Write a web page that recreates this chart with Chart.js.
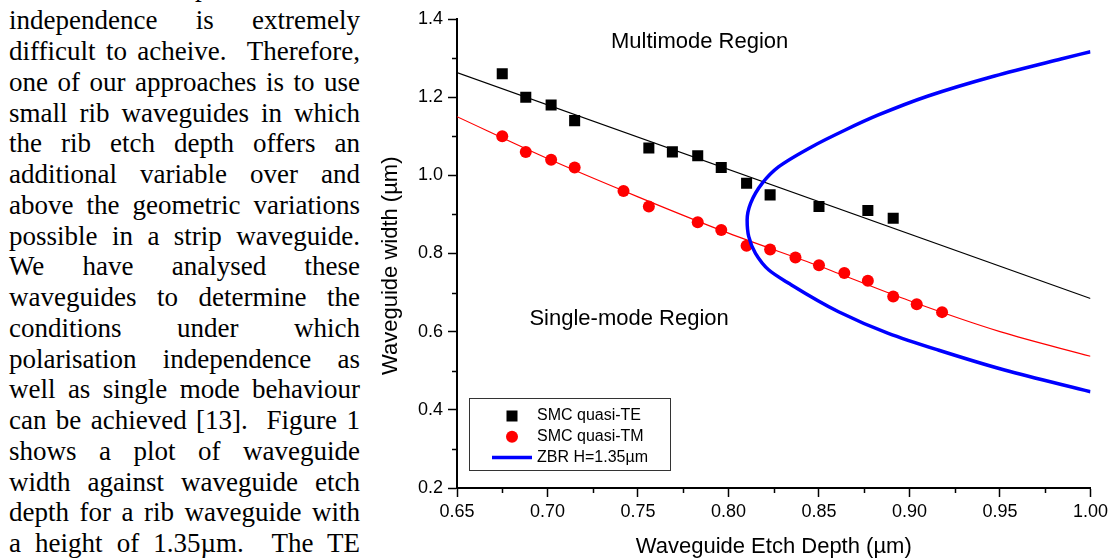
<!DOCTYPE html>
<html>
<head>
<meta charset="utf-8">
<script src="https://cdn.jsdelivr.net/npm/chart.js@4.4.1/dist/chart.umd.min.js"></script>
<style>
  html, body { margin: 0; padding: 0; background: #fff; }
  body { width: 1112px; height: 560px; overflow: hidden; position: relative; }
  #text {
    position: absolute; left: 9px; top: -25.5px; width: 351px;
    font-family: 'Liberation Serif', 'Times New Roman', serif; font-size: 27px; color: #000;
  }
  #text div { height: 30.75px; line-height: 30.75px; text-align: justify; text-align-last: justify; }
  #text div.first { text-align-last: left; position: relative; top: -3px; }
  #chart { position: absolute; left: 360px; top: 0; }
</style>
</head>
<body>
<div id="text">
  <div class="first">For real devices, polarisation</div>
  <div>independence is extremely</div>
  <div>difficult to acheive.&nbsp; Therefore,</div>
  <div>one of our approaches is to use</div>
  <div>small rib waveguides in which</div>
  <div>the rib etch depth offers an</div>
  <div>additional variable over and</div>
  <div>above the geometric variations</div>
  <div>possible in a strip waveguide.</div>
  <div>We have analysed these</div>
  <div>waveguides to determine the</div>
  <div>conditions under which</div>
  <div>polarisation independence as</div>
  <div>well as single mode behaviour</div>
  <div>can be achieved [13].&nbsp; Figure 1</div>
  <div>shows a plot of waveguide</div>
  <div>width against waveguide etch</div>
  <div>depth for a rib waveguide with</div>
  <div>a height of 1.35µm.&nbsp; The TE</div>
</div>
<canvas id="chart" width="752" height="560"></canvas>
<script>
// measured points (etch depth in um, width in um)
const teDepth = [0.675, 0.688, 0.702, 0.715, 0.756, 0.769, 0.783, 0.796, 0.810, 0.823, 0.850, 0.877, 0.891];
const teWidth = [1.26, 1.20, 1.18, 1.14, 1.07, 1.06, 1.05, 1.02, 0.98, 0.95, 0.92, 0.91, 0.89];

const tmDepth = [0.675, 0.688, 0.702, 0.715, 0.742, 0.756, 0.783, 0.796, 0.810, 0.823, 0.837, 0.850, 0.864, 0.877, 0.891, 0.904, 0.918];
const tmWidth = [1.10, 1.06, 1.04, 1.02, 0.96, 0.92, 0.88, 0.86, 0.82, 0.81, 0.79, 0.77, 0.75, 0.73, 0.69, 0.67, 0.65];

// fitted lines
const teFitDepth = [0.65, 1.00];
const teFitWidth = [1.263, 0.685];

const tmFitDepth = [0.65, 0.70, 0.75, 0.80, 0.85, 0.90, 0.95, 1.00];
const tmFitWidth = [1.150, 1.043, 0.945, 0.852, 0.768, 0.679, 0.600, 0.537];

// ZBR boundary, traced from the upper branch round to the lower one (width falls steadily)
const zbrDepth = [1.0000, 0.9837, 0.9470, 0.9103, 0.8828, 0.8645, 0.8461, 0.8278, 0.8186, 0.8122, 0.8103, 0.8112, 0.8149, 0.8223, 0.8333, 0.8608, 0.8883, 0.9158, 0.9525, 1.0000];
const zbrWidth = [1.3163, 1.2977, 1.2542, 1.2030, 1.1544, 1.1160, 1.0733, 1.0221, 0.9796, 0.9284, 0.8857, 0.8430, 0.8005, 0.7578, 0.7238, 0.6511, 0.5958, 0.5531, 0.5019, 0.4464];

const xTicks = [0.65, 0.70, 0.75, 0.80, 0.85, 0.90, 0.95, 1.00];
const yTicks = [0.2, 0.4, 0.6, 0.8, 1.0, 1.2, 1.4];
const xMinor = [0.675, 0.725, 0.775, 0.825, 0.875, 0.925, 0.975];
const yMinor = [0.3, 0.5, 0.7, 0.9, 1.1, 1.3];

function toPoints(xs, ys) {
    return xs.map((x, i) => ({ x: x, y: ys[i] }));
}

Chart.defaults.font.family = "'Liberation Sans', Arial, sans-serif";
Chart.defaults.color = "#000";

const minorTicks = {
    id: "minorTicks",
    afterDraw(chart) {
        const ctx = chart.ctx;
        const xs = chart.scales.x, ys = chart.scales.y;
        ctx.save();
        ctx.strokeStyle = "#000";
        ctx.lineWidth = 1.5;
        ctx.beginPath();
        xMinor.forEach(v => {
            let px = Math.round(xs.getPixelForValue(v)) + 0.5;
            ctx.moveTo(px, xs.top);
            ctx.lineTo(px, xs.top + 5);
        });
        yMinor.forEach(v => {
            let py = Math.round(ys.getPixelForValue(v)) + 0.5;
            ctx.moveTo(ys.right, py);
            ctx.lineTo(ys.right - 5, py);
        });
        ctx.stroke();
        ctx.restore();
    }
};

const regionLabels = {
    id: "regionLabels",
    afterDatasetsDraw(chart) {
        const ctx = chart.ctx;
        const xs = chart.scales.x, ys = chart.scales.y;
        ctx.save();
        ctx.fillStyle = "#000";
        ctx.font = "22px 'Liberation Sans', Arial, sans-serif";
        ctx.textBaseline = "alphabetic";
        ctx.fillText("Multimode Region", xs.getPixelForValue(0.7351), ys.getPixelForValue(1.326));
        ctx.fillText("Single-mode Region", xs.getPixelForValue(0.690), ys.getPixelForValue(0.617));
        ctx.restore();
    }
};

const boxLegend = {
    id: "boxLegend",
    afterDraw(chart) {
        const ctx = chart.ctx;
        const area = chart.chartArea;
        const left = area.left + 12, top = area.bottom - 90;
        const w = 201, h = 72;
        ctx.save();
        ctx.strokeStyle = "#333";
        ctx.lineWidth = 1;
        ctx.strokeRect(left + 0.5, top + 0.5, w, h);

        const sets = chart.data.datasets.filter(d => d.label);
        ctx.font = "16px 'Liberation Sans', Arial, sans-serif";
        ctx.textBaseline = "middle";
        sets.forEach((d, i) => {
            let cy = top + 18 + i * 20.7;
            let mx = left + 43;
            if (d.legendLine) {
                ctx.strokeStyle = d.borderColor;
                ctx.lineWidth = d.borderWidth;
                ctx.beginPath();
                ctx.moveTo(left + 23, cy);
                ctx.lineTo(left + 63, cy);
                ctx.stroke();
            } else if (d.pointStyle === "rect") {
                ctx.fillStyle = d.backgroundColor;
                ctx.fillRect(mx - 5.5, cy - 5.5, 11, 11);
            } else {
                ctx.fillStyle = d.backgroundColor;
                ctx.beginPath();
                ctx.arc(mx, cy, 6, 0, Math.PI * 2);
                ctx.fill();
            }
            ctx.fillStyle = "#000";
            ctx.fillText(d.label, left + 68, cy);
        });
        ctx.restore();
    }
};

new Chart(document.getElementById("chart"), {
    type: "scatter",
    data: {
        datasets: [
            {
                data: toPoints(teFitDepth, teFitWidth),
                showLine: true, borderColor: "#000", borderWidth: 1.2,
                pointRadius: 0, order: 5
            },
            {
                data: toPoints(tmFitDepth, tmFitWidth),
                showLine: true, borderColor: "#ff0000", borderWidth: 1.2,
                cubicInterpolationMode: "monotone", pointRadius: 0, order: 4
            },
            {
                label: "SMC quasi-TE",
                data: toPoints(teDepth, teWidth),
                pointStyle: "rect", pointRadius: 7.8, backgroundColor: "#000",
                borderWidth: 0, order: 3
            },
            {
                label: "SMC quasi-TM",
                data: toPoints(tmDepth, tmWidth),
                pointStyle: "circle", pointRadius: 6, backgroundColor: "#ff0000",
                borderWidth: 0, order: 2
            },
            {
                // the boundary is single valued in width, so interpolate along y
                type: "line",
                indexAxis: "y",
                label: "ZBR H=1.35µm",
                data: toPoints(zbrDepth, zbrWidth),
                legendLine: true, borderColor: "#0000ff", borderWidth: 3.5, fill: false,
                cubicInterpolationMode: "monotone", pointRadius: 0, order: 1
            }
        ]
    },
    options: {
        responsive: false,
        animation: false,
        devicePixelRatio: 1,
        events: [],
        layout: { padding: { left: 14, top: 19, right: 19, bottom: 0 } },
        plugins: { legend: { display: false }, tooltip: { enabled: false } },
        scales: {
            x: {
                type: "linear", min: 0.65, max: 1.0,
                afterBuildTicks: s => { s.ticks = xTicks.map(v => ({ value: v })); },
                afterFit: s => { s.height = 72; },
                grid: { drawOnChartArea: false, drawTicks: true, tickLength: 9, tickColor: "#000", tickWidth: 1.5 },
                border: { display: true, color: "#000", width: 2 },
                ticks: { font: { size: 18 }, color: "#000", padding: 4, maxRotation: 0,
                    callback: v => v.toFixed(2) },
                title: { display: true, text: "Waveguide Etch Depth (µm)", font: { size: 22 }, color: "#000",
                    padding: { top: 0, bottom: 0 } }
            },
            y: {
                type: "linear", min: 0.2, max: 1.4,
                afterBuildTicks: s => { s.ticks = yTicks.map(v => ({ value: v })); },
                afterFit: s => { s.width = 83; },
                grid: { drawOnChartArea: false, drawTicks: true, tickLength: 9, tickColor: "#000", tickWidth: 1.5 },
                border: { display: true, color: "#000", width: 2 },
                ticks: { font: { size: 18 }, color: "#000", padding: 5,
                    callback: v => v.toFixed(1) },
                // trailing spaces push the centred title a little down the axis, as in the source figure
                title: { display: true, text: "Waveguide width (µm)    ", font: { size: 22 }, color: "#000",
                    padding: { top: 4, bottom: 0 } }
            }
        }
    },
    plugins: [minorTicks, regionLabels, boxLegend]
});
</script>
</body>
</html>
